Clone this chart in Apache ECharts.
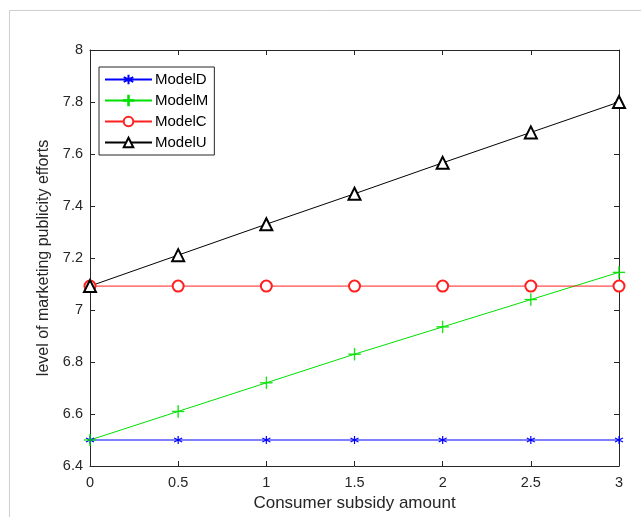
<!DOCTYPE html>
<html>
<head>
<meta charset="utf-8">
<script src="https://cdn.jsdelivr.net/npm/echarts@6/dist/echarts.min.js"></script>
<style>
  * { margin: 0; padding: 0; }
  body { background: #fff; }
  #chart { width: 641px; height: 517px; }
</style>
</head>
<body>
<div id="chart"></div>
<script>
// subsidy values on the x axis
const subsidy = [0, 0.5, 1, 1.5, 2, 2.5, 3];
// level of marketing publicity efforts
const modelD = [6.5, 6.5, 6.5, 6.5, 6.5, 6.5, 6.5];
const modelM = [6.5, 6.61, 6.72, 6.83, 6.935, 7.04, 7.145];
const modelC = [7.092, 7.092, 7.092, 7.092, 7.092, 7.092, 7.092];
const modelU = [7.092, 7.211, 7.33, 7.447, 7.566, 7.683, 7.8];
const seriesNames = ['ModelD', 'ModelM', 'ModelC', 'ModelU'];

const fontFam = '"Liberation Sans", Arial, sans-serif';
const axisGray = '#262626';

// marker shapes like matlab's * and +
const starPath = 'path://M0,-10 L0,10 M-8.66,-5 L8.66,5 M-8.66,5 L8.66,-5';
const plusPath = 'path://M-0.6,-10 L0.6,-10 L0.6,-0.6 L10,-0.6 L10,0.6 L0.6,0.6 L0.6,10 L-0.6,10 L-0.6,0.6 L-10,0.6 L-10,-0.6 L-0.6,-0.6 Z';

function pairs(ys) {
    return subsidy.map((x, i) => [x, ys[i]]);
}

function mkSeries(name, ys, color, symbol, size, bw) {
    return {
        name: name,
        type: 'line',
        data: pairs(ys),
        symbol: symbol,
        symbolSize: size,
        showAllSymbol: true,
        lineStyle: { color: color, width: 1 },
        itemStyle: { color: color, borderColor: color, borderWidth: bw },
        emphasis: { disabled: true },
        animation: false
    };
}

const axisCommon = {
    axisLine: { show: true, onZero: false, lineStyle: { color: axisGray, width: 1 } },
    axisTick: { show: true, inside: true, length: 5, lineStyle: { color: axisGray } },
    splitLine: { show: false }
};

let myChart = echarts.init(document.getElementById('chart'));
let option = {
    backgroundColor: '#fff',
    textStyle: { fontFamily: fontFam },
    graphic: [
        {
            type: 'polyline',
            shape: { points: [[9.5, 517], [9.5, 10.5], [641, 10.5]] },
            style: { stroke: '#cfcfcf', lineWidth: 1, fill: null },
            silent: true
        }
    ],
    grid: { left: 90, right: 22, top: 50, bottom: 51 },
    legend: {
        data: seriesNames,
        orient: 'vertical',
        left: 99,
        top: 67,
        itemWidth: 47,
        itemHeight: 12,
        itemGap: 6,
        padding: [5, 6, 5, 5],
        backgroundColor: '#fff',
        borderColor: axisGray,
        borderWidth: 1,
        borderRadius: 0,
        textStyle: { color: '#000', fontSize: 15, lineHeight: 14, fontFamily: fontFam, padding: [0, 0, 0, -2] }
    },
    xAxis: [
        Object.assign({
            type: 'value',
            min: 0,
            max: 3,
            interval: 0.5,
            position: 'bottom',
            name: 'Consumer subsidy amount',
            nameLocation: 'middle',
            nameGap: 29,
            nameTextStyle: { color: axisGray, fontSize: 17, fontFamily: fontFam },
            axisLabel: { color: axisGray, fontSize: 14.5, margin: 9, fontFamily: fontFam }
        }, axisCommon),
        Object.assign({
            type: 'value',
            min: 0,
            max: 3,
            interval: 0.5,
            position: 'top',
            axisLabel: { show: false }
        }, axisCommon)
    ],
    yAxis: [
        Object.assign({
            type: 'value',
            min: 6.4,
            max: 8,
            interval: 0.2,
            position: 'left',
            name: 'level of marketing publicity efforts',
            nameLocation: 'middle',
            nameGap: 31,
            nameTextStyle: { color: axisGray, fontSize: 16, fontFamily: fontFam },
            axisLabel: {
                color: axisGray, fontSize: 14.5, margin: 7, fontFamily: fontFam,
                formatter: v => String(Math.round(v * 10) / 10)
            }
        }, axisCommon),
        Object.assign({
            type: 'value',
            min: 6.4,
            max: 8,
            interval: 0.2,
            position: 'right',
            axisLabel: { show: false }
        }, axisCommon)
    ],
    series: [
        mkSeries('ModelD', modelD, '#0000ff', starPath, 8, 1.2),
        mkSeries('ModelM', modelM, '#00e000', plusPath, 12, 0.5),
        mkSeries('ModelC', modelC, '#ff2020', 'emptyCircle', 11, 0.9),
        mkSeries('ModelU', modelU, '#000000', 'emptyTriangle', 12, 0.9)
    ]
};
myChart.setOption(option);
</script>
</body>
</html>
